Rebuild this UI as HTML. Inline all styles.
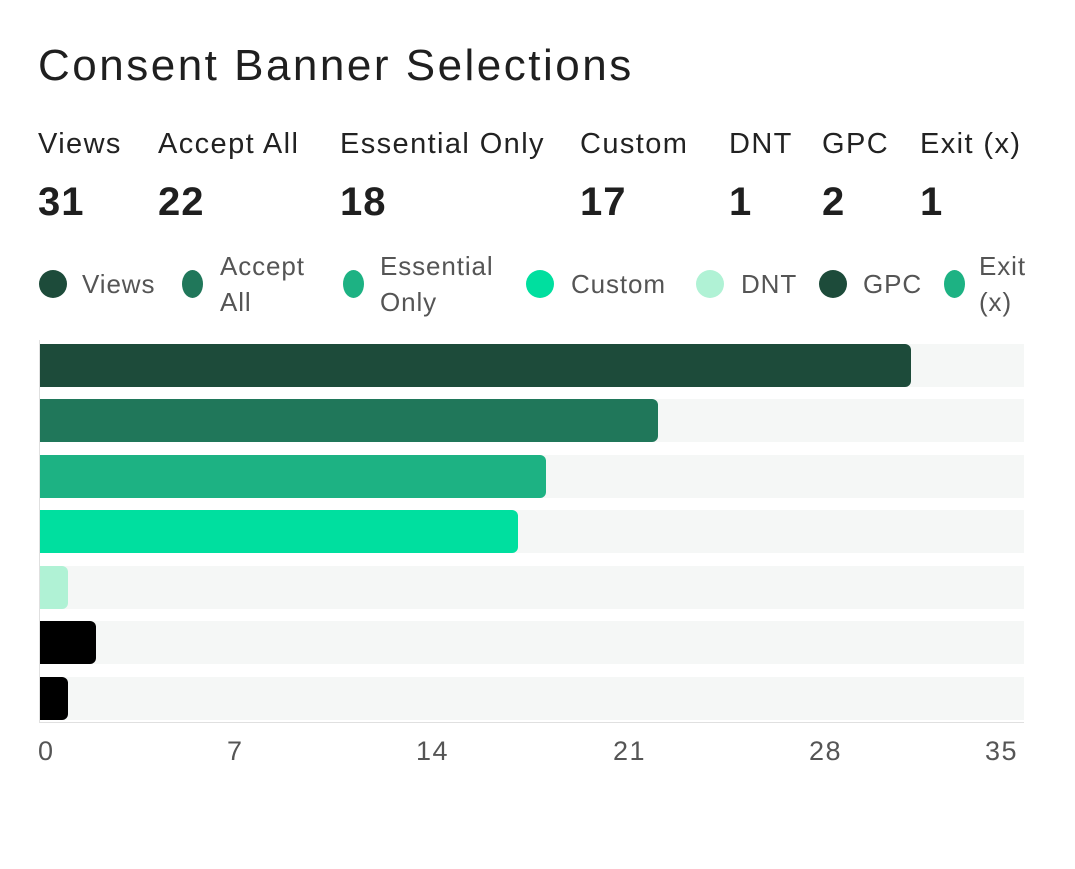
<!DOCTYPE html>
<html><head><meta charset="utf-8"><style>
body{margin:0;width:1075px;height:869px;background:#fff;font-family:"Liberation Sans",sans-serif;position:relative;overflow:hidden}
.a{position:absolute;white-space:nowrap}
.t{font-size:44px;color:#1f1f1f;left:38px;top:41px;letter-spacing:2.5px}
.sl{font-size:29px;color:#222;top:128px;letter-spacing:1.4px}
.sv{font-size:40px;font-weight:bold;color:#1f1f1f;top:180px;letter-spacing:1px}
.lg{font-size:26px;color:#555;line-height:36px;letter-spacing:0.9px}
.dot{position:absolute;border-radius:50%}
.bg{position:absolute;left:40px;width:984px;height:43px;background:#f5f7f6}
.bar{position:absolute;left:40px;height:43px;border-radius:0 6px 6px 0}
.tk{font-size:27px;color:#555;top:736px;letter-spacing:1.5px}
</style></head><body>
<div class="a t">Consent Banner Selections</div>
<div class="a sl" style="left:38px">Views</div>
<div class="a sl" style="left:158px">Accept All</div>
<div class="a sl" style="left:340px">Essential Only</div>
<div class="a sl" style="left:580px">Custom</div>
<div class="a sl" style="left:729px">DNT</div>
<div class="a sl" style="left:822px">GPC</div>
<div class="a sl" style="left:920px">Exit (x)</div>
<div class="a sv" style="left:38px">31</div>
<div class="a sv" style="left:158px">22</div>
<div class="a sv" style="left:340px">18</div>
<div class="a sv" style="left:580px">17</div>
<div class="a sv" style="left:729px">1</div>
<div class="a sv" style="left:822px">2</div>
<div class="a sv" style="left:920px">1</div>

<div class="dot" style="left:39px;top:270px;width:28px;height:28px;background:#1d4b3a"></div>
<div class="a lg" style="left:82px;top:266px">Views</div>
<div class="dot" style="left:182px;top:270px;width:21px;height:28px;background:#20775a"></div>
<div class="a lg" style="left:220px;top:248px">Accept<br>All</div>
<div class="dot" style="left:343px;top:270px;width:21px;height:28px;background:#1db283"></div>
<div class="a lg" style="left:380px;top:248px">Essential<br>Only</div>
<div class="dot" style="left:526px;top:270px;width:28px;height:28px;background:#00df9f"></div>
<div class="a lg" style="left:571px;top:266px">Custom</div>
<div class="dot" style="left:696px;top:270px;width:28px;height:28px;background:#b0f2d5"></div>
<div class="a lg" style="left:741px;top:266px">DNT</div>
<div class="dot" style="left:819px;top:270px;width:28px;height:28px;background:#1d4b3a"></div>
<div class="a lg" style="left:863px;top:266px">GPC</div>
<div class="dot" style="left:944px;top:270px;width:21px;height:28px;background:#1db283"></div>
<div class="a lg" style="left:979px;top:248px">Exit<br>(x)</div>

<div class="bg" style="top:344px"></div>
<div class="bg" style="top:399px"></div>
<div class="bg" style="top:455px"></div>
<div class="bg" style="top:510px"></div>
<div class="bg" style="top:566px"></div>
<div class="bg" style="top:621px"></div>
<div class="bg" style="top:677px"></div>
<div class="bar" style="top:344px;width:871px;background:#1d4b3a"></div>
<div class="bar" style="top:399px;width:618px;background:#20775a"></div>
<div class="bar" style="top:455px;width:506px;background:#1db283"></div>
<div class="bar" style="top:510px;width:478px;background:#00df9f"></div>
<div class="bar" style="top:566px;width:28px;background:#b0f2d5"></div>
<div class="bar" style="top:621px;width:56px;background:#000"></div>
<div class="bar" style="top:677px;width:28px;background:#000"></div>
<div style="position:absolute;left:39px;top:340px;width:1px;height:383px;background:#e0e0e0"></div>
<div style="position:absolute;left:39px;top:722px;width:985px;height:1px;background:#e0e0e0"></div>

<div class="a tk" style="left:38px">0</div>
<div class="a tk" style="left:227px">7</div>
<div class="a tk" style="left:416px">14</div>
<div class="a tk" style="left:613px">21</div>
<div class="a tk" style="left:809px">28</div>
<div class="a tk" style="left:985px">35</div>
</body></html>
